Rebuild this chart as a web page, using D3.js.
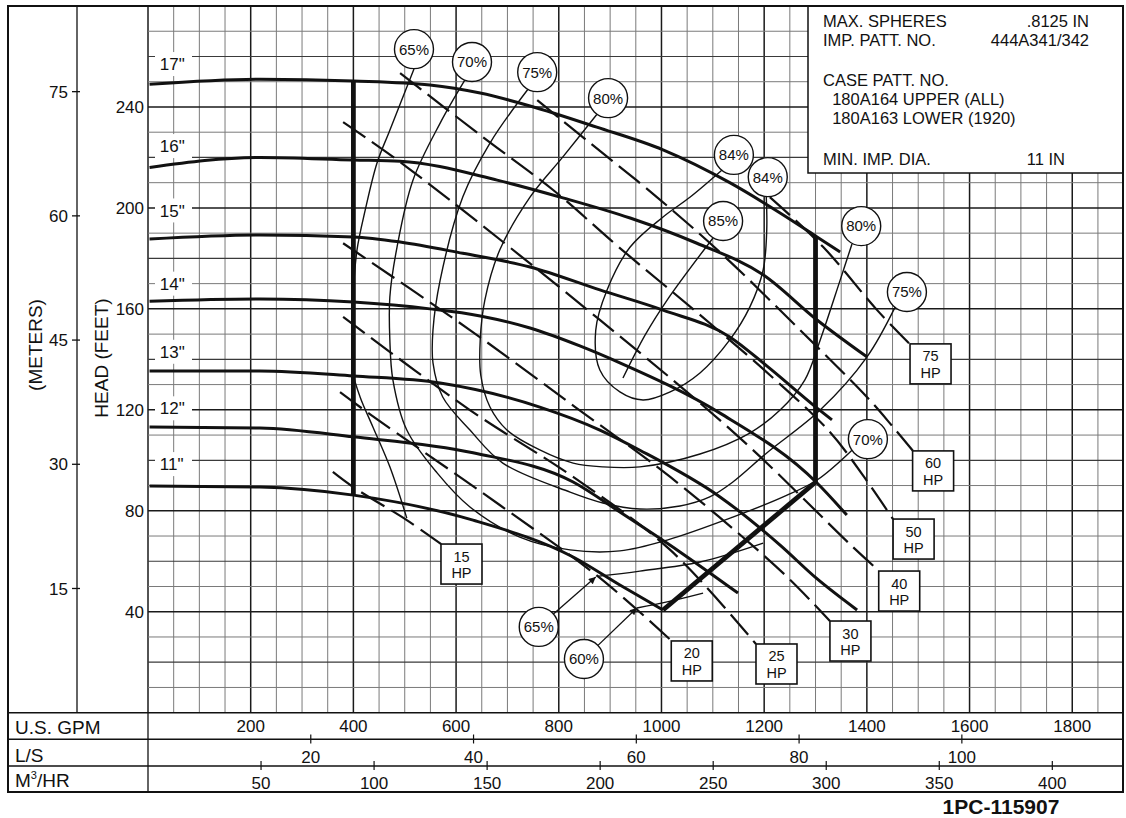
<!DOCTYPE html>
<html><head><meta charset="utf-8">
<script src="https://cdn.jsdelivr.net/npm/d3@7"></script>
<style>
body{margin:0;background:#fff;}
svg{display:block;font-family:"Liberation Sans",Arial,Helvetica,sans-serif;}
</style></head><body>
<svg id="chart" width="1126" height="818"></svg>
<script>
// ---------- DATA ----------
const gpmTicks = [200,400,600,800,1000,1200,1400,1600,1800];
const lsTicks = [20,40,60,80,100];
const m3hTicks = [50,100,150,200,250,300,350,400];
const ftTicks = [40,80,120,160,200,240];
const mTicks = [15,30,45,60,75];

const diameters = ['17"','16"','15"','14"','13"','12"','11"'];
const diamLabelFt = [257,224.5,199,170,143,120.6,98.5];

const head17 = [[3,249],[218,251],[400,250.3],[549,248.7],[647,245.5],[744,240.4],[874,232],[1003,223],[1133,210],[1231,198],[1303,188.5],[1348,182.5]];
const head16 = [[3,216],[218,220],[400,219],[491,218.5],[680,211],[808,204],[939,196],[1069,186],[1198,173.5],[1303,155.6],[1400,141]];
const head15 = [[3,187.7],[218,189.3],[400,188.5],[491,186.5],[613,182],[744,176.6],[880,167.5],[1003,159.5],[1133,148.9],[1205,137.4],[1303,120.7],[1332,116]];
const head14 = [[3,163],[218,163.9],[400,162.7],[549,160],[647,157.2],[744,152.4],[841,145.3],[919,138.6],[1114,118.7],[1303,91],[1361,78.3]];
const head13 = [[3,135.4],[218,135.4],[400,133.4],[569,130.6],[763,121.1],[880,112],[958,104],[1114,85.5],[1231,66.4],[1301,53.4],[1381,40.7]];
const head12 = [[3,113.2],[218,112.8],[400,109.3],[633,103],[828,91.4],[919,79.5],[1036,63.7],[1149,47.4]];
const head11 = [[3,89.8],[218,89.4],[400,86.2],[633,76.3],[828,61.7],[919,50.6],[1003,40.7]];

const boundLeft = [[400,250.3],[400,86.2]];
const boundRight = [[1300,188.8],[1300,91.3]];
const boundDiag = [[1300,91.3],[1003,40.7]];

const eff65a = [[518,255],[471,230.8],[446,217.8],[423,199.1],[407,183.3],[399,163.5],[397,143.7],[399,134.6],[413,125.1],[438,113.2],[471,97.4],[504,77.1]];
const eff65b = [[874,54],[958,56.1],[1075,59.7],[1198,67.2]];
const eff60 = [[952,41.5],[1011,43.9],[1081,47.4]];
const eff70 = [[617,250.6],[569,233.6],[516,211],[485,184.5],[471,164.7],[471,147.7],[477,131.8],[504,112],[563,95],[627,81.5],[724,69.6],[822,64.5],[919,64.1],[1011,68.4],[1139,77.5],[1237,85.5],[1303,92.2],[1371,104]];
const eff75 = [[740,247],[666,225.7],[613,204.3],[569,171.4],[555,151.6],[555,138.6],[574,125.1],[627,112],[691,98.9],[822,87.4],[886,83.1],[958,80.7],[1036,81.9],[1094,85.5],[1139,91.4],[1205,102.9],[1309,119.9],[1400,140.9],[1455,160.7]];
const eff80 = [[874,237],[808,220.2],[744,204.3],[685,183.3],[656,163.5],[647,147.7],[648,133.8],[666,121.1],[699,112],[763,104.1],[828,98.9],[886,97.4],[958,97.4],[1075,102.5],[1172,110.8],[1231,119.9],[1279,131.8],[1309,147.6],[1348,171.4],[1371,185.7]];
const eff84 = [[1118,215],[1056,204.3],[1003,196.4],[939,184.5],[894,167.5],[872,151.6],[880,135.8],[919,127.1],[964,123.9],[1017,127.1],[1075,134.6],[1133,147.7],[1172,160.7],[1198,175.4],[1205,191.2],[1204,204.6]];
const eff85 = [[1100,188],[1011,163.5],[968,149.6],[925,132.6]];

const hp15 = [[360,95.4],[399,89.5],[504,76.3],[571,66.8]];
const hp20 = [[374,127],[432,118.3],[685,82.3],[880,53.4],[1020,28.4]];
const hp25 = [[380,156.8],[627,119.9],[828,93.4],[1017,64.5],[1184,27.2]];
const hp30 = [[380,186],[627,151.6],[832,121.1],[1017,93.4],[1237,55.3],[1328,36.3]];
const hp40 = [[380,234],[504,216.2],[880,155.6],[1153,108.8],[1373,65.6],[1424,56.1]];
const hp50 = [[491,253.4],[652,228.1],[789,207.1],[919,184.1],[1075,157.6],[1211,133.8],[1328,111.2],[1396,93],[1451,76.7]];
const hp60 = [[758,242.7],[861,225.7],[991,204.3],[1120,181.3],[1260,153.6],[1400,125.1],[1451,113.2],[1490,103.7]];
const hp75 = [[1211,204.3],[1315,184.5],[1420,159.5],[1484,146]];

const effLabelText = ['65%','70%','75%','80%','84%','84%','85%','80%','75%','70%'];
const effLabelQ = [518,631,758,896,1141,1207,1120,1389,1478,1402];
const effLabelH = [262.9,257.8,253.8,243.5,221,212.2,194.8,192.8,166.7,108.4];

const arrowLabelText = ['65%','60%'];
const arrowLabelQ = [761,849];
const arrowLabelH = [34,21.3];
const arrowTipQ = [872,952];
const arrowTipH = [53.8,41.5];

const hpText = ['15','20','25','30','40','50','60','75'];
const hpBoxQ = [610.5,1059,1224,1368,1463,1491,1529,1524];
const hpBoxH = [58.9,20.5,19.3,28.4,48.2,68.8,95.8,138.2];

const infoLeft = ['MAX. SPHERES','IMP. PATT. NO.','CASE PATT. NO.','  180A164 UPPER (ALL)','  180A163 LOWER (1920)','MIN. IMP. DIA.'];
const infoRight = ['.8125 IN','444A341/342','','','','11 IN'];

const rowLabels = ['U.S. GPM','L/S','M3/HR'];
const drawingNo = '1PC-115907';

// ---------- DRAW ----------
const svg = d3.select('#chart');
const x = d3.scaleLinear().domain([0,1900]).range([148,1123.6]);
const y = d3.scaleLinear().domain([0,280]).range([712.7,6]);
const yM = d3.scaleLinear().domain([0,280/3.28084]).range([712.7,6]);
const INK = '#111';

// grid
const grid = svg.append('g');
d3.range(0,1900,50).forEach(v=>{
  const major = v%200===0;
  grid.append('line').attr('x1',x(v)).attr('x2',x(v)).attr('y1',y(280)).attr('y2',y(0))
    .attr('stroke', major?'#1a1a1a':'#7a7a7a').attr('stroke-width', major?1.5:1);
});
d3.range(10,280,10).forEach(v=>{
  const major = v%40===0, mid = v%20===0;
  grid.append('line').attr('x1',x(0)).attr('x2',x(1900)).attr('y1',y(v)).attr('y2',y(v))
    .attr('stroke', major?'#1a1a1a':(mid?'#3a3a3a':'#7a7a7a')).attr('stroke-width', major?1.5:(mid?1.2:1));
});

const lineXY = d3.line().x(d=>x(d[0])).y(d=>y(d[1]));
const smooth = d3.line().x(d=>x(d[0])).y(d=>y(d[1])).curve(d3.curveCatmullRom.alpha(0.5));
const mono = d3.line().x(d=>x(d[0])).y(d=>y(d[1])).curve(d3.curveMonotoneX);

// efficiency contours
[eff65a,eff65b,eff60,eff70,eff75,eff80,eff84,eff85].forEach(c=>{
  svg.append('path').attr('d',smooth(c)).attr('fill','none').attr('stroke',INK).attr('stroke-width',1.4);
});

// HP dashed lines
[hp15,hp20,hp25,hp30,hp40,hp50,hp60,hp75].forEach(c=>{
  svg.append('path').attr('d',smooth(c)).attr('fill','none').attr('stroke',INK)
    .attr('stroke-width',2.2).attr('stroke-dasharray','27,8');
});

// head curves
[head17,head16,head15,head14,head13,head12,head11].forEach(c=>{
  svg.append('path').attr('d',mono(c)).attr('fill','none').attr('stroke',INK).attr('stroke-width',3);
});

// operating boundary
[boundLeft,boundRight,boundDiag].forEach(c=>{
  svg.append('path').attr('d',lineXY(c)).attr('fill','none').attr('stroke',INK).attr('stroke-width',4.8);
});

// diameter labels
diameters.forEach((t,i)=>{
  const cy = y(diamLabelFt[i]);
  svg.append('rect').attr('x',155).attr('y',cy-12).attr('width',37).attr('height',24).attr('fill','#fff');
  svg.append('text').attr('x',x(23)).attr('y',cy).attr('dy','0.36em').attr('font-size',17).attr('fill',INK).text(t);
});

// arrow marker
svg.append('defs').append('marker').attr('id','ah').attr('viewBox','0 0 10 10').attr('refX',10).attr('refY',5)
  .attr('markerWidth',11).attr('markerHeight',7).attr('markerUnits','userSpaceOnUse').attr('orient','auto')
  .append('path').attr('d','M0,0 L10,5 L0,10 Z').attr('fill',INK);

const R = 19.5;
function circleLabel(cx,cy,t){
  svg.append('circle').attr('cx',cx).attr('cy',cy).attr('r',R).attr('fill','#fff').attr('stroke',INK).attr('stroke-width',1.4);
  svg.append('text').attr('x',cx).attr('y',cy).attr('dy','0.36em').attr('text-anchor','middle').attr('font-size',15).attr('fill',INK).text(t);
}
effLabelText.forEach((t,i)=>circleLabel(x(effLabelQ[i]),y(effLabelH[i]),t));
arrowLabelText.forEach((t,i)=>{
  const cx=x(arrowLabelQ[i]), cy=y(arrowLabelH[i]);
  const tx=x(arrowTipQ[i]), ty=y(arrowTipH[i]);
  const dx=tx-cx, dy=ty-cy, L=Math.hypot(dx,dy);
  svg.append('line').attr('x1',cx+dx/L*R).attr('y1',cy+dy/L*R).attr('x2',tx).attr('y2',ty)
    .attr('stroke',INK).attr('stroke-width',1.3).attr('marker-end','url(#ah)');
  circleLabel(cx,cy,t);
});

// HP boxes (two stacked lines that do not overlap)
hpText.forEach((t,i)=>{
  const cx=x(hpBoxQ[i]), cy=y(hpBoxH[i]);
  svg.append('rect').attr('x',cx-20.5).attr('y',cy-20).attr('width',41).attr('height',40)
    .attr('fill','#fff').attr('stroke',INK).attr('stroke-width',1.6);
  svg.append('text').attr('x',cx).attr('y',cy-2.5).attr('text-anchor','middle').attr('font-size',14.5).attr('fill',INK).text(t);
  svg.append('text').attr('x',cx).attr('y',cy+14).attr('text-anchor','middle').attr('font-size',14.5).attr('fill',INK).text('HP');
});

// info box
svg.append('rect').attr('x',808).attr('y',6).attr('width',315).attr('height',167).attr('fill','#fff').attr('stroke',INK).attr('stroke-width',1.5);
const infoY = [26.5,46,86,105,124,165];
infoLeft.forEach((t,i)=>{
  svg.append('text').attr('x',823).attr('y',infoY[i]).attr('font-size',16.5).attr('fill',INK)
    .attr('xml:space','preserve').style('white-space','pre').text(t);
  if(infoRight[i]) svg.append('text').attr('x',i===5?1065:1089).attr('y',infoY[i]).attr('text-anchor','end')
    .attr('font-size',16.5).attr('fill',INK).text(infoRight[i]);
});

// left axes
svg.append('line').attr('x1',77).attr('x2',77).attr('y1',6).attr('y2',712.7).attr('stroke',INK).attr('stroke-width',1.3);
ftTicks.forEach(v=>{
  svg.append('text').attr('x',144).attr('y',y(v)).attr('dy','0.36em').attr('text-anchor','end').attr('font-size',17).attr('fill',INK).text(v);
});
mTicks.forEach(v=>{
  svg.append('line').attr('x1',72).attr('x2',80).attr('y1',yM(v)).attr('y2',yM(v)).attr('stroke',INK).attr('stroke-width',1.3);
  svg.append('text').attr('x',68).attr('y',yM(v)).attr('dy','0.36em').attr('text-anchor','end').attr('font-size',17).attr('fill',INK).text(v);
});
svg.append('text').attr('transform','translate(35,345) rotate(-90)').attr('dy','0.36em').attr('text-anchor','middle').attr('font-size',19).attr('fill',INK).text('(METERS)');
svg.append('text').attr('transform','translate(101,358) rotate(-90)').attr('dy','0.36em').attr('text-anchor','middle').attr('font-size',19).attr('fill',INK).text('HEAD (FEET)');

// bottom table
[712.7,739.3,766].forEach(yy=>{
  svg.append('line').attr('x1',8).attr('x2',1123).attr('y1',yy).attr('y2',yy).attr('stroke',INK).attr('stroke-width',1.5);
});
svg.append('line').attr('x1',148).attr('x2',148).attr('y1',712.7).attr('y2',792).attr('stroke',INK).attr('stroke-width',1.3);
gpmTicks.forEach(v=>{
  svg.append('text').attr('x',x(v)).attr('y',732).attr('text-anchor','middle').attr('font-size',17).attr('fill',INK).text(v);
});
lsTicks.forEach(v=>{
  const xx=x(v*15.850);
  svg.append('line').attr('x1',xx).attr('x2',xx).attr('y1',734.5).attr('y2',743.5).attr('stroke',INK).attr('stroke-width',1.2);
  svg.append('text').attr('x',xx).attr('y',762.5).attr('text-anchor','middle').attr('font-size',17).attr('fill',INK).text(v);
});
m3hTicks.forEach(v=>{
  const xx=x(v*4.4029);
  svg.append('line').attr('x1',xx).attr('x2',xx).attr('y1',761).attr('y2',770).attr('stroke',INK).attr('stroke-width',1.2);
  svg.append('text').attr('x',xx).attr('y',789).attr('text-anchor','middle').attr('font-size',17).attr('fill',INK).text(v);
});
const rowY=[734,761.5,787];
rowLabels.forEach((t,i)=>{
  const tx = svg.append('text').attr('x',15).attr('y',rowY[i]).attr('font-size',19).attr('fill',INK);
  if(t==='M3/HR'){
    tx.append('tspan').text('M');
    tx.append('tspan').attr('font-size',11).attr('dy',-8).text('3');
    tx.append('tspan').attr('dy',8).text('/HR');
  } else tx.text(t);
});

// outer frame
svg.append('rect').attr('x',8).attr('y',6).attr('width',1115).attr('height',786).attr('fill','none').attr('stroke',INK).attr('stroke-width',2);

// drawing number
svg.append('text').attr('x',1001).attr('y',814).attr('text-anchor','middle').attr('font-size',21).attr('font-weight','bold').attr('fill',INK).text(drawingNo);
</script>
</body></html>
